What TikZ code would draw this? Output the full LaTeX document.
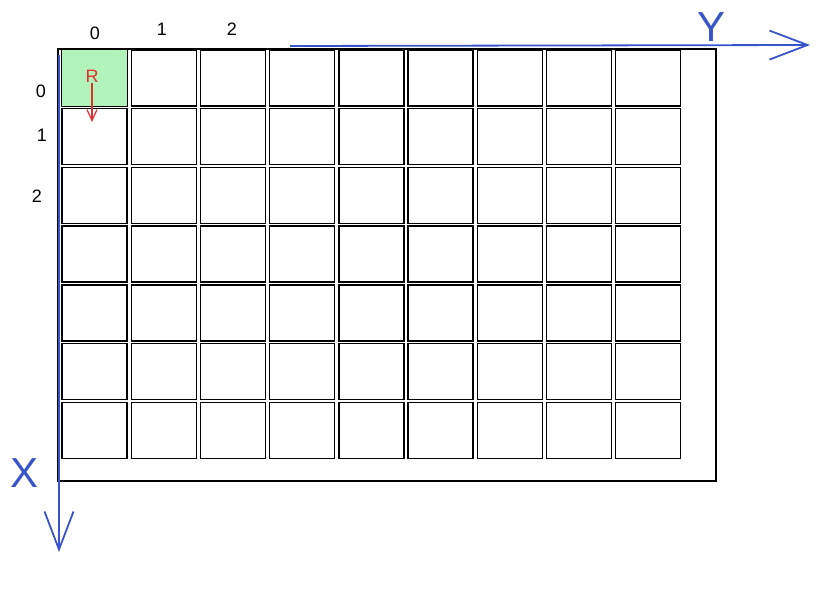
\documentclass[tikz,border=0pt]{standalone}
\usepackage{fontspec}
\setmainfont{Liberation Sans}
\usetikzlibrary{arrows.meta}

\begin{document}
\begin{tikzpicture}[x=1pt,y=-1pt,
    cellbox/.style={draw, line width=1.4pt, minimum width=65pt, minimum height=56pt, inner sep=0pt},
    axisline/.style={draw=axisblue, line width=1.8pt, -{Straight Barb[length=38pt,width=29pt,line width=1.8pt]}},
    axislabel/.style={text=axisblue, font=\fontsize{42}{42}\selectfont},
    indexlabel/.style={font=\fontsize{18}{18}\selectfont}]

    % Define colors
    \definecolor{axisblue}{RGB}{57,84,200}
    \definecolor{pastelgreen}{RGB}{178,242,187}
    \definecolor{markred}{RGB}{224,49,49}

    \useasboundingbox (0,0) rectangle (815,613);

    % outer frame
    \draw[line width=1.4pt] (58,49) rectangle (716,481);

    % grid of cells
    \foreach \r in {0,...,6} {
        \foreach \c in {0,...,8} {
            \node[cellbox] (cell-\r-\c) at ({94.5+69.2*\c},{78+58.7*\r}) {};
        }
    }
    \fill[pastelgreen] (cell-0-0.south west) rectangle (cell-0-0.north east);
    \draw[line width=1.4pt] (cell-0-0.south west) rectangle (cell-0-0.north east);

    % index labels
    \node[indexlabel] (col0) at (95,33) {0};
    \node[indexlabel] (col1) at (162,29) {1};
    \node[indexlabel] (col2) at (232,29) {2};
    \node[indexlabel] (row0) at (41,91) {0};
    \node[indexlabel] (row1) at (42,135) {1};
    \node[indexlabel] (row2) at (37,196) {2};

    % robot
    \node[text=markred, font=\fontsize{18}{18}\selectfont, inner sep=1pt] (robot) at (92,76) {R};
    \coordinate (robotgoal) at (92,122);
    \draw[markred, line width=1.2pt, -{Straight Barb[length=11pt,width=10pt,line width=1.2pt]}] (robot.south) -- (robotgoal);

    % axes
    \coordinate (origin) at (59,55);
    \coordinate (ystart) at (290,46);
    \coordinate (yend) at (810,45);
    \coordinate (xend) at (59,552);
    \draw[axisline] (ystart) -- (yend);
    \draw[axisline] (origin) -- (xend);
    \node[axislabel] (ylabel) at (712,27) {Y};
    \node[axislabel] (xlabel) at (25,473) {X};

\end{tikzpicture}
\end{document}
